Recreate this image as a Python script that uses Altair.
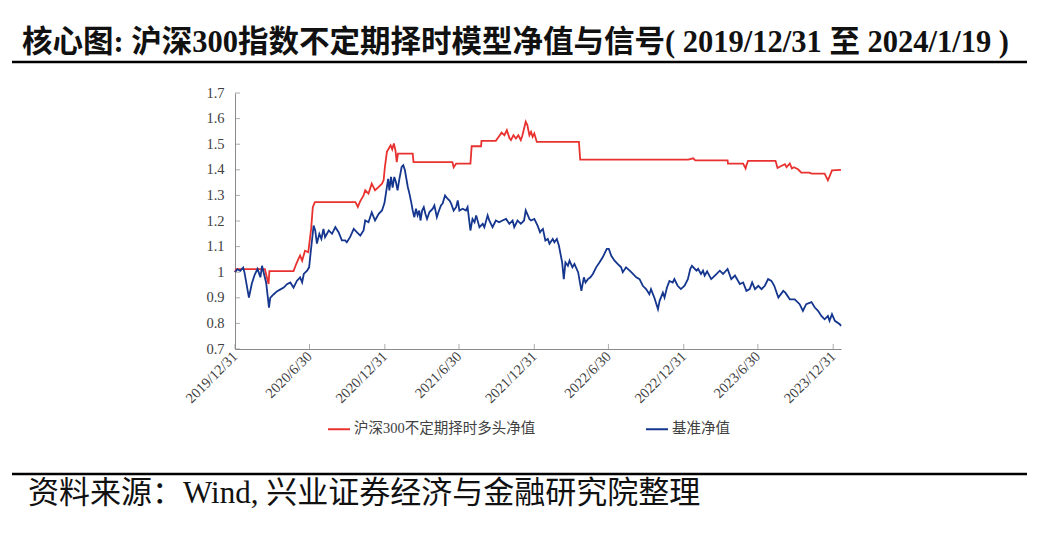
import altair as alt
import pandas as pd

TITLE = "核心图: 沪深300指数不定期择时模型净值与信号( 2019/12/31 至 2024/1/19 )"
SOURCE = "资料来源：Wind, 兴业证券经济与金融研究院整理"
SERIES = ["沪深300不定期择时多头净值", "基准净值"]
COLORS = ["#E8322F", "#15368E"]

Y_TICKS = [0.7, 0.8, 0.9, 1.0, 1.1, 1.2, 1.3, 1.4, 1.5, 1.6, 1.7]
X_TICKS = [(2019, 12, 31), (2020, 6, 30), (2020, 12, 31), (2021, 6, 30), (2021, 12, 31),
           (2022, 6, 30), (2022, 12, 31), (2023, 6, 30), (2023, 12, 31)]
X_TICK_STR = ["2019-12-31", "2020-06-30", "2020-12-31", "2021-06-30", "2021-12-31",
              "2022-06-30", "2022-12-31", "2023-06-30", "2023-12-31"]

blue_dates = [
    "2019-12-31", "2020-01-06", "2020-01-13", "2020-01-20", "2020-01-23", "2020-02-03", "2020-02-10",
    "2020-02-17", "2020-02-24", "2020-03-02", "2020-03-06", "2020-03-12", "2020-03-16", "2020-03-23",
    "2020-03-26", "2020-04-03", "2020-04-12", "2020-04-20", "2020-04-28", "2020-05-06", "2020-05-14",
    "2020-05-22", "2020-05-30", "2020-06-07", "2020-06-12", "2020-06-16", "2020-06-24", "2020-06-29",
    "2020-07-03", "2020-07-10", "2020-07-14", "2020-07-18", "2020-07-24", "2020-07-29", "2020-08-03",
    "2020-08-07", "2020-08-16", "2020-08-24", "2020-09-01", "2020-09-09", "2020-09-17", "2020-09-25",
    "2020-09-29", "2020-10-07", "2020-10-16", "2020-10-24", "2020-11-01", "2020-11-09", "2020-11-13",
    "2020-11-21", "2020-11-29", "2020-12-07", "2020-12-16", "2020-12-24", "2020-12-30", "2021-01-05",
    "2021-01-08", "2021-01-11", "2021-01-15", "2021-01-19", "2021-01-23", "2021-01-27", "2021-01-31",
    "2021-02-04", "2021-02-10", "2021-02-14", "2021-02-18", "2021-02-25", "2021-03-01", "2021-03-06",
    "2021-03-09", "2021-03-13", "2021-03-17", "2021-03-21", "2021-03-25", "2021-03-28", "2021-04-01",
    "2021-04-05", "2021-04-09", "2021-04-13", "2021-04-19", "2021-04-27", "2021-05-01", "2021-05-07",
    "2021-05-11", "2021-05-17", "2021-05-21", "2021-05-27", "2021-06-02", "2021-06-07", "2021-06-11",
    "2021-06-17", "2021-06-23", "2021-06-27", "2021-07-01", "2021-07-09", "2021-07-17", "2021-07-21",
    "2021-07-28", "2021-08-02", "2021-08-07", "2021-08-11", "2021-08-19", "2021-08-27", "2021-08-31",
    "2021-09-08", "2021-09-12", "2021-09-20", "2021-09-28", "2021-10-06", "2021-10-14", "2021-10-23",
    "2021-10-31", "2021-11-08", "2021-11-12", "2021-11-20", "2021-11-28", "2021-12-06", "2021-12-10",
    "2021-12-19", "2021-12-23", "2021-12-31", "2022-01-08", "2022-01-14", "2022-01-17", "2022-01-21",
    "2022-01-27", "2022-02-02", "2022-02-06", "2022-02-14", "2022-02-18", "2022-02-24", "2022-03-01",
    "2022-03-09", "2022-03-13", "2022-03-17", "2022-03-23", "2022-03-27", "2022-04-03", "2022-04-08",
    "2022-04-17", "2022-04-25", "2022-05-01", "2022-05-05", "2022-05-11", "2022-05-17", "2022-05-23",
    "2022-05-31", "2022-06-08", "2022-06-16", "2022-06-26", "2022-07-01", "2022-07-07", "2022-07-15",
    "2022-07-23", "2022-07-31", "2022-08-04", "2022-08-12", "2022-08-21", "2022-08-29", "2022-09-06",
    "2022-09-14", "2022-09-22", "2022-09-30", "2022-10-08", "2022-10-12", "2022-10-20", "2022-10-29",
    "2022-11-02", "2022-11-10", "2022-11-14", "2022-11-20", "2022-11-26", "2022-12-04", "2022-12-08",
    "2022-12-16", "2022-12-24", "2023-01-02", "2023-01-10", "2023-01-16", "2023-01-20", "2023-01-31",
    "2023-02-04", "2023-02-11", "2023-02-16", "2023-02-20", "2023-02-26", "2023-03-08", "2023-03-17",
    "2023-03-29", "2023-04-06", "2023-04-17", "2023-04-26", "2023-05-05", "2023-05-17", "2023-05-25",
    "2023-06-02", "2023-06-10", "2023-06-16", "2023-06-23", "2023-07-01", "2023-07-09", "2023-07-17",
    "2023-07-25", "2023-08-02", "2023-08-09", "2023-08-19", "2023-08-31", "2023-09-05", "2023-09-16",
    "2023-09-28", "2023-10-10", "2023-10-18", "2023-10-26", "2023-11-08", "2023-11-16", "2023-11-24",
    "2023-12-02", "2023-12-10", "2023-12-18", "2023-12-22", "2023-12-28", "2024-01-04", "2024-01-16",
    "2024-01-19",
]
blue_values = [
    1.000, 1.012, 1.005, 1.018, 1.000, 0.901, 0.955,
    0.990, 1.013, 0.980, 1.025, 0.985, 0.960, 0.862,
    0.900, 0.913, 0.926, 0.933, 0.940, 0.953, 0.960,
    0.940, 0.966, 0.980, 0.960, 0.993, 1.006, 1.019,
    1.080, 1.182, 1.163, 1.112, 1.150, 1.130, 1.169,
    1.137, 1.163, 1.150, 1.176, 1.156, 1.124, 1.124,
    1.117, 1.137, 1.169, 1.156, 1.143, 1.163, 1.202,
    1.195, 1.234, 1.202, 1.228, 1.241, 1.270, 1.333,
    1.365, 1.320, 1.372, 1.330, 1.372, 1.352, 1.320,
    1.360, 1.411, 1.418, 1.398, 1.333, 1.307, 1.268,
    1.241, 1.215, 1.248, 1.222, 1.241, 1.202, 1.241,
    1.254, 1.228, 1.208, 1.235, 1.248, 1.261, 1.215,
    1.235, 1.261, 1.268, 1.300, 1.287, 1.280, 1.268,
    1.241, 1.254, 1.280, 1.241, 1.248, 1.241, 1.254,
    1.163, 1.208, 1.195, 1.222, 1.176, 1.189, 1.176,
    1.222, 1.202, 1.176, 1.202, 1.195, 1.202, 1.208,
    1.189, 1.202, 1.176, 1.202, 1.189, 1.202, 1.241,
    1.208, 1.202, 1.208, 1.182, 1.156, 1.163, 1.169,
    1.124, 1.130, 1.111, 1.130, 1.117, 1.130, 1.104,
    1.038, 0.973, 1.038, 1.025, 1.045, 1.019, 1.032,
    1.000, 0.927, 0.980, 0.960, 0.973, 0.980, 0.993,
    1.019, 1.038, 1.058, 1.091, 1.091, 1.064, 1.045,
    1.032, 1.019, 1.000, 1.019, 1.006, 0.993, 0.980,
    0.973, 0.947, 0.934, 0.914, 0.934, 0.901, 0.856,
    0.888, 0.920, 0.901, 0.940, 0.966, 0.960, 0.973,
    0.947, 0.934, 0.947, 0.973, 1.013, 1.025, 1.006,
    1.013, 0.993, 1.006, 0.987, 1.003, 0.973, 0.987,
    1.006, 0.993, 1.013, 0.973, 0.987, 0.954, 0.960,
    0.927, 0.934, 0.960, 0.934, 0.947, 0.934, 0.947,
    0.973, 0.966, 0.947, 0.901, 0.927, 0.920, 0.894,
    0.894, 0.875, 0.849, 0.875, 0.883, 0.862, 0.849,
    0.829, 0.816, 0.829, 0.810, 0.836, 0.810, 0.797,
    0.790,
]

red_dates = [
    "2019-12-31", "2020-01-03", "2020-03-13", "2020-03-17", "2020-03-22", "2020-03-24", "2020-05-22",
    "2020-05-28", "2020-06-03", "2020-06-07", "2020-06-12", "2020-06-19", "2020-06-27", "2020-07-04",
    "2020-07-08", "2020-07-13", "2020-10-20", "2020-10-24", "2020-10-26", "2020-10-31", "2020-11-09",
    "2020-11-13", "2020-11-21", "2020-11-29", "2020-12-07", "2020-12-16", "2020-12-24", "2020-12-28",
    "2020-12-31", "2021-01-05", "2021-01-14", "2021-01-18", "2021-01-22", "2021-01-26", "2021-01-29",
    "2021-02-01", "2021-03-09", "2021-03-11", "2021-06-14", "2021-06-17", "2021-06-23", "2021-07-28",
    "2021-07-31", "2021-08-23", "2021-08-24", "2021-09-28", "2021-10-06", "2021-10-12", "2021-10-19",
    "2021-10-25", "2021-10-31", "2021-11-04", "2021-11-10", "2021-11-16", "2021-11-22", "2021-11-28",
    "2021-12-02", "2021-12-10", "2021-12-14", "2021-12-19", "2021-12-23", "2021-12-27", "2021-12-31",
    "2022-01-06", "2022-04-19", "2022-04-22", "2023-01-11", "2023-01-23", "2023-01-28", "2023-04-17",
    "2023-04-18", "2023-05-25", "2023-05-31", "2023-06-02", "2023-06-06", "2023-08-12", "2023-08-17",
    "2023-08-26", "2023-09-04", "2023-09-08", "2023-09-16", "2023-09-21", "2023-09-26", "2023-10-06",
    "2023-10-14", "2023-11-03", "2023-11-08", "2023-12-10", "2023-12-18", "2023-12-21", "2023-12-28",
    "2024-01-19",
]
red_values = [
    1.000, 1.012, 1.012, 0.985, 0.954, 1.004, 1.004,
    1.030, 1.052, 1.065, 1.045, 1.084, 1.078, 1.170,
    1.254, 1.274, 1.274, 1.262, 1.255, 1.275, 1.300,
    1.320, 1.307, 1.346, 1.320, 1.333, 1.346, 1.360,
    1.410, 1.470, 1.496, 1.480, 1.503, 1.475, 1.430,
    1.463, 1.463, 1.430, 1.430, 1.410, 1.424, 1.424,
    1.492, 1.492, 1.513, 1.513, 1.531, 1.545, 1.535,
    1.555, 1.525, 1.516, 1.535, 1.522, 1.535, 1.516,
    1.535, 1.588, 1.575, 1.535, 1.548, 1.529, 1.542,
    1.509, 1.509, 1.440, 1.440, 1.445, 1.437, 1.437,
    1.424, 1.424, 1.405, 1.418, 1.435, 1.435, 1.407,
    1.415, 1.422, 1.410, 1.425, 1.405, 1.410, 1.402,
    1.389, 1.389, 1.385, 1.385, 1.359, 1.370, 1.398,
    1.400,
]

df = pd.concat([
    pd.DataFrame({"date": red_dates, "value": red_values, "series": SERIES[0]}),
    pd.DataFrame({"date": blue_dates, "value": blue_values, "series": SERIES[1]}),
])

W, H = 606, 256
PAD_L, PAD_T, PAD_R, PAD_B = 235, 93, 1047 - 235 - 606, 541 - 93 - 256
AXIS_COLOR = "#8a8a8a"
LABEL_COLOR = "#404040"
SERIF = "Liberation Serif, Noto Sans CJK SC"

x_scale = alt.Scale(domain=[alt.DateTime(year=2019, month=12, date=31),
                            alt.DateTime(year=2024, month=1, date=19)], nice=False)
y_scale = alt.Scale(domain=[0.7, 1.7], nice=False, zero=False)

x_axis = alt.Axis(
    values=[alt.DateTime(year=y, month=m, date=d) for (y, m, d) in X_TICKS],
    format="%Y/%-m/%-d", labelAngle=315, labelAlign="right", labelBaseline="middle",
    labelPadding=5, ticks=False, grid=False, domainColor=AXIS_COLOR, domainWidth=1,
    labelFont="Liberation Serif", labelFontSize=14.5, labelColor=LABEL_COLOR,
    labelFlush=False, labelOverlap=False, title=None,
)
y_axis = alt.Axis(
    values=Y_TICKS, format=".2~f", ticks=False, grid=False, domainColor=AXIS_COLOR,
    domainWidth=1, labelFont="Liberation Serif", labelFontSize=14.5, labelColor=LABEL_COLOR,
    labelPadding=11, labelOverlap=False, labelFlush=False, labelSeparation=0, title=None,
)

lines = alt.Chart(df).mark_line(strokeWidth=1.8).encode(
    x=alt.X("date:T", scale=x_scale, axis=x_axis),
    y=alt.Y("value:Q", scale=y_scale, axis=y_axis),
    color=alt.Color(
        "series:N",
        scale=alt.Scale(domain=SERIES, range=COLORS),
        sort=SERIES,
        legend=alt.Legend(
            orient="none", legendX=92, legendY=324, direction="horizontal", title=None,
            symbolType="stroke", symbolSize=484, symbolStrokeWidth=2, labelFont=SERIF,
            labelFontSize=14.5, labelColor=LABEL_COLOR, columnPadding=106, labelOffset=3,
            labelLimit=400, padding=0,
        ),
    ),
)

xticks = alt.Chart(pd.DataFrame({"date": X_TICK_STR})).mark_tick(
    orient="vertical", size=5, thickness=1, color=AXIS_COLOR
).encode(x=alt.X("date:T", scale=x_scale, axis=x_axis), y=alt.value(H - 2.5))

yticks = alt.Chart(pd.DataFrame({"value": Y_TICKS})).mark_tick(
    orient="horizontal", size=5, thickness=1, color=AXIS_COLOR
).encode(y=alt.Y("value:Q", scale=y_scale, axis=y_axis), x=alt.value(2.5))

title_text = alt.Chart(pd.DataFrame({"t": [TITLE]})).mark_text(
    align="left", baseline="middle", font=SERIF, fontSize=30.5, fontWeight="bold", color="#111111"
).encode(text="t:N", x=alt.value(22 - PAD_L), y=alt.value(43 - PAD_T))

source_text = alt.Chart(pd.DataFrame({"t": [SOURCE]})).mark_text(
    align="left", baseline="middle", font=SERIF, fontSize=31, color="#111111"
).encode(text="t:N", x=alt.value(28 - PAD_L), y=alt.value(494 - PAD_T))

rule_top = alt.Chart(pd.DataFrame({"k": [0]})).mark_rule(color="black", strokeWidth=2.5).encode(
    x=alt.value(12 - PAD_L), x2=alt.value(1027 - PAD_L), y=alt.value(62 - PAD_T)
)
rule_bottom = alt.Chart(pd.DataFrame({"k": [0]})).mark_rule(color="black", strokeWidth=2.5).encode(
    x=alt.value(12 - PAD_L), x2=alt.value(1027 - PAD_L), y=alt.value(474 - PAD_T)
)

chart = alt.layer(
    lines, xticks, yticks, title_text, source_text, rule_top, rule_bottom
).properties(
    width=W, height=H, autosize="none",
    padding={"left": PAD_L, "top": PAD_T, "right": PAD_R, "bottom": PAD_B},
    background="white",
).configure_view(stroke=None)

chart.save("out.html", embed_options={"renderer": "svg", "actions": False})
